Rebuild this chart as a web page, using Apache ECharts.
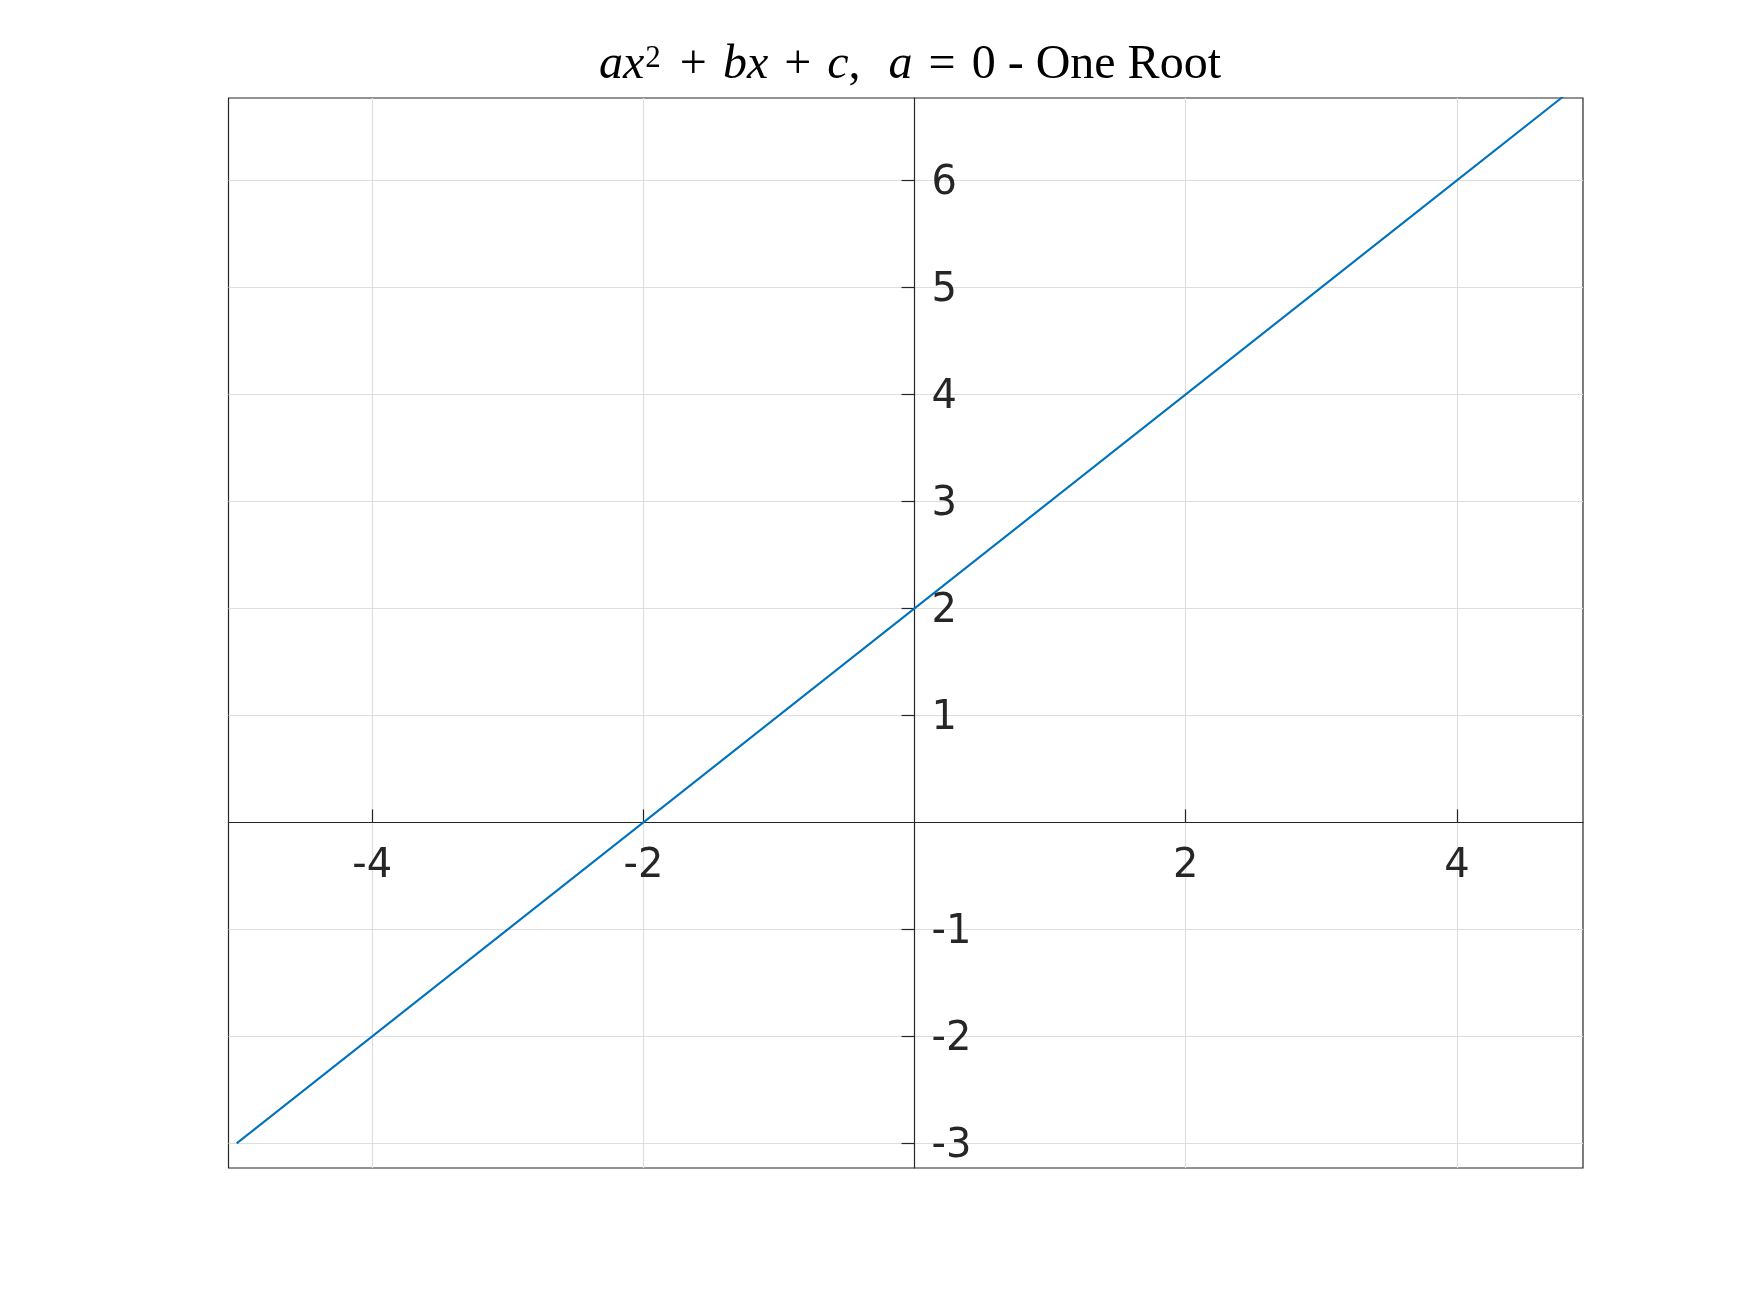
<!DOCTYPE html>
<html>
<head>
<meta charset="utf-8">
<script src="https://cdn.jsdelivr.net/npm/echarts@6/dist/echarts.min.js"></script>
<style>
html,body{margin:0;padding:0;background:#fff;}
#chart{width:1750px;height:1313px;}
</style>
</head>
<body>
<div id="chart"></div>
<script>
// Data: y = x + 2
const xValues = [-5, -4, -3, -2, -1, 0, 1, 2, 3, 4, 5];
const yValues = [-3, -2, -1, 0, 1, 2, 3, 4, 5, 6, 7];
const xTicks = [-4, -2, 2, 4];
const yTicks = [-3, -2, -1, 1, 2, 3, 4, 5, 6];
const xRange = [-5.06, 4.93];
const yRange = [-3.23, 6.77];

const seriesData = xValues.map((x, i) => [x, yValues[i]]);
const xTickPoints = xTicks.map(t => [t, 0]);
const yTickPoints = yTicks.map(t => [0, t]);
const axisColor = '#262626';
const gridColor = '#dedede';
const tickFont = 'DejaVu Sans';
const serif = 'Liberation Serif';

const base = {fontFamily: serif, fontSize: 48, fontWeight: 'normal', color: '#000', verticalAlign: 'bottom', height: 52};
const chart = echarts.init(document.getElementById('chart'), null, {renderer: 'canvas'});
chart.setOption({
  backgroundColor: '#ffffff',
  animation: false,
  title: {
    text: '{i|ax}{sup|2}{op|+}{i|bx}{op|+}{i|c}{r|,}{gap| }{i|a}{op|=}{r|0 - One Root}',
    left: 905,
    textAlign: 'center',
    top: 28,
    textStyle: {
      fontWeight: 'normal',
      rich: {
        i: Object.assign({}, base, {fontStyle: 'italic'}),
        r: Object.assign({}, base),
        op: Object.assign({}, base, {padding: [0, 16, 0, 16]}),
        gap: Object.assign({}, base, {padding: [0, 8, 0, 8]}),
        sup: Object.assign({}, base, {fontSize: 31, padding: [0, 3, 6, 1]})
      }
    }
  },
  grid: {
    left: 228.5,
    right: 167,
    top: 98,
    bottom: 145,
    show: true,
    borderColor: axisColor,
    borderWidth: 1.2,
    containLabel: false
  },
  xAxis: {
    type: 'value',
    min: xRange[0],
    max: xRange[1],
    position: 'bottom',
    axisLine: {show: true, onZero: true, lineStyle: {color: axisColor, width: 1.2}},
    axisTick: {show: true, inside: true, length: 13, customValues: xTicks, lineStyle: {color: axisColor, width: 1.2}},
    axisLabel: {show: false},
    splitLine: {show: true, lineStyle: {color: gridColor, width: 1.2}}
  },
  yAxis: {
    type: 'value',
    min: yRange[0],
    max: yRange[1],
    position: 'right',
    axisLine: {show: true, onZero: true, lineStyle: {color: axisColor, width: 1.2}},
    axisTick: {show: true, inside: true, length: 13, customValues: yTicks, lineStyle: {color: axisColor, width: 1.2}},
    axisLabel: {show: false},
    splitLine: {show: true, lineStyle: {color: gridColor, width: 1.2}}
  },
  series: [{
    type: 'line',
    data: seriesData,
    showSymbol: false,
    clip: true,
    silent: true,
    lineStyle: {color: '#0072BD', width: 2},
    itemStyle: {color: '#0072BD'},
    z: 3
  }, {
    type: 'scatter',
    data: xTickPoints,
    symbolSize: 0,
    silent: true,
    z: 4,
    itemStyle: {opacity: 1},
    label: {
      show: true, position: 'bottom', distance: 24,
      formatter: p => String(p.value[0]),
      fontFamily: tickFont, fontSize: 40, color: axisColor, opacity: 1
    }
  }, {
    type: 'scatter',
    data: yTickPoints,
    symbolSize: 0,
    silent: true,
    z: 4,
    itemStyle: {opacity: 1},
    label: {
      show: true, position: 'right', distance: 17, offset: [0, 3],
      formatter: p => String(p.value[1]),
      fontFamily: tickFont, fontSize: 40, color: axisColor, opacity: 1
    }
  }]
});
</script>
</body>
</html>
